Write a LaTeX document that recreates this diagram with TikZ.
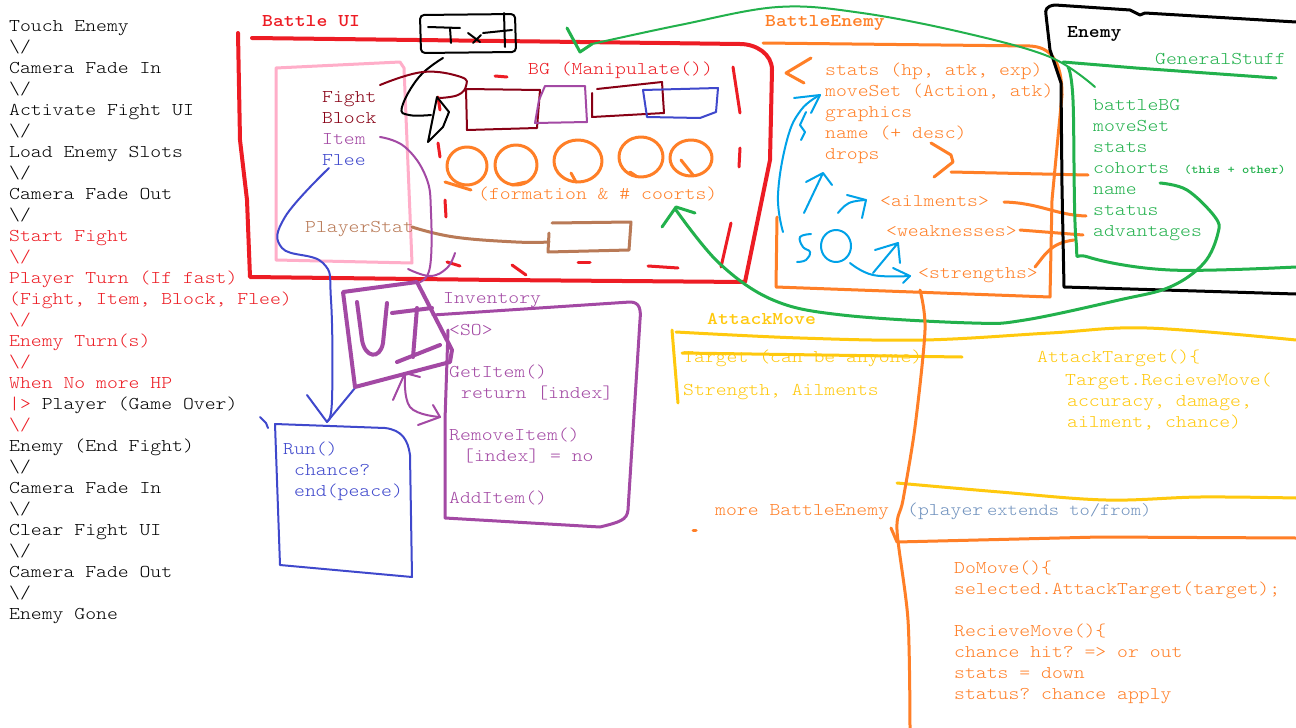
\documentclass[tikz,border=0pt]{standalone}
\usepackage{fontspec}
\setmonofont{lmmonolt10-regular.otf}[FakeStretch=1.15, BoldFont=lmmonolt10-bold.otf]
\definecolor{pRed}{HTML}{ED1C24}
\definecolor{pOrange}{HTML}{FF7F27}
\definecolor{pGreen}{HTML}{22B14C}
\definecolor{pPink}{HTML}{FFAEC9}
\definecolor{pPurple}{HTML}{A349A4}
\definecolor{pBlue}{HTML}{3F48CC}
\definecolor{pMaroon}{HTML}{880015}
\definecolor{pBrown}{HTML}{B97A57}
\definecolor{pCyan}{HTML}{00A2E8}
\definecolor{pYellow}{HTML}{FFC90E}
\definecolor{pSteel}{HTML}{7092BE}
\newcommand\dn{\textbackslash/}
\begin{document}
\begin{tikzpicture}[x=1pt, y=-1pt, line cap=round, line join=round,
  txt/.style={font=\ttfamily\fontsize{18}{21}\selectfont, anchor=base west, inner sep=0pt},
  ttl/.style={txt, font=\ttfamily\bfseries\fontsize{18}{21}\selectfont},
  brush/.style={line width=3pt},
  pen/.style={line width=2pt}]
\fill[white] (0,0) rectangle (1296,728);
\useasboundingbox (0,0) rectangle (1296,728);
% flow on the left
\foreach \c/\t [count=\i] in {black/Touch Enemy, black/\dn, black/Camera Fade In, black/\dn,
  black/Activate Fight UI, black/\dn, black/Load Enemy Slots, black/\dn, black/Camera Fade Out, black/\dn,
  pRed/Start Fight, pRed/\dn, pRed/Player Turn (If fast), {pRed/(Fight, Item, Block, Flee)}, pRed/\dn,
  pRed/Enemy Turn(s), pRed/\dn, pRed/When No more HP, black/{\color{pRed}|>} Player (Game Over), pRed/\dn,
  black/Enemy (End Fight), black/\dn, black/Camera Fade In, black/\dn, black/Clear Fight UI, black/\dn,
  black/Camera Fade Out, black/\dn, black/Enemy Gone}
  \node[txt, text=\c] (flow\i) at (9,{10+21*\i}) {\t};
% titles
\node[ttl, pRed] (battleui) at (262,27) {Battle UI};
\node[ttl, pOrange] (battleenemy) at (765,27) {BattleEnemy};
\node[ttl, black] (enemy) at (1067,37) {Enemy};
\node[ttl, pYellow] (attackmove) at (707,324) {AttackMove};
% battle ui
\draw[pRed, line width=4pt] (252,38) -- (500,41) -- (740,44) to[out=0,in=90] (772,70) -- (770,160) -- (745,282) -- (500,280) -- (250,277) -- (247,200) -- (240,140) -- (238,33);
\foreach \xa/\ya/\xb/\yb in {495/76/507/77, 438/143/440/157, 445/200/446/217, 447/262/460/266, 512/265/526/275,
  578/262/590/262, 648/266/678/268, 733/67/740/113, 740/148/739/167, 731/223/721/267, 438/97/440/110}
  \draw[brush, pRed] (\xa,\ya) -- (\xb,\yb);
\draw[brush, pPink] (276,68) -- (400,62) -- (404,68) -- (412,263) -- (276,260) -- cycle;
\node[txt, pMaroon] (fight) at (322,102) {Fight};
\node[txt, pMaroon] (block) at (322,123) {Block};
\node[txt, pPurple] (item) at (322,144) {Item};
\node[txt, pBlue] (flee) at (322,165) {Flee};
\node[txt, pBrown] (playerstat) at (305,232) {PlayerStat};
\node[txt, pRed] (bg) at (528,74) {BG (Manipulate())};
\node[txt, pOrange] (formation) at (478,199) {(formation \& \# coorts)};
% txt box and its arrow
\draw[pen, black, rounded corners=4pt] (420,15) -- (515,14) -- (516,52) -- (421,53) -- cycle;
\draw[pen, black] (428,27) -- (460,28) (450,28) -- (451,43) (468,33) -- (480,42) (473,43) -- (481,35)
  (483,33) -- (512,30) (504,13) -- (505,47);
\draw[pen, black] plot[smooth, tension=0.7] coordinates {(443,58) (419,77) (402,107) (409,115) (431,115)};
\draw[pen, black] (437,97) -- (428,142) -- (443,127) -- (449,112) -- cycle;
\draw[pen, pMaroon] plot[smooth, tension=0.7] coordinates {(380,85) (423,72) (461,77) (466,86) (458,95) (440,98)};
% bg strip
\draw[pen, pMaroon] (466,89) -- (540,90) -- (537,128) -- (467,130) -- cycle;
\draw[pen, pPurple] (545,86) -- (585,86) -- (587,122) -- (535,123) -- (539,100) -- cycle;
\draw[pen, pMaroon] (597,89) -- (662,82) -- (664,113) -- (592,117) -- (592,93);
\draw[pen, pBlue] (643,90) -- (718,88) -- (716,112) -- (700,118) -- (647,117) -- cycle;
% enemy slots
\foreach \cx/\cy/\rx/\ry in {467/166/20/19, 516/165/21/20, 578/161/24/21, 641/157/22/20, 691/158/21/18}
  \draw[brush, pOrange] (\cx,\cy) ellipse [x radius=\rx, y radius=\ry];
\draw[brush, pOrange] (445,182) -- (471,190) (512,185) -- (526,182) (571,173) -- (576,182)
  (630,172) -- (636,176) (681,160) -- (693,175);
% player stat
\draw[brush, pBrown] (552,223) -- (631,222) -- (629,250) -- (548,252) -- (549,233);
\draw[brush, pBrown] plot[smooth, tension=0.7] coordinates {(412,227) (454,237) (516,242) (549,242)};
% item and flee lines
\draw[pen, pPurple] plot[smooth, tension=0.7] coordinates {(380,137) (405,147) (426,177) (431,213) (430,267) (420,282)};
\draw[pen, pPurple] plot[smooth, tension=0.7] coordinates {(455,253) (447,268) (430,276) (408,269)};
\draw[pen, pBlue] plot[smooth, tension=0.7] coordinates {(329,168) (285,217) (282,248) (323,263) (331,300) (332,400) (327,421)};
\draw[pen, pBlue] (307,395) -- (327,422) -- (355,388);
% ui box
\draw[line width=4pt, pPurple] (343,292) -- (417,282) -- (452,350) -- (450,362) -- (355,387) -- cycle;
\draw[line width=4pt, pPurple] (357,302) -- (362,340) .. controls (365,358) and (380,360) .. (383,343) -- (387,303)
  (417,308) -- (413,357) (392,313) -- (432,308) (397,362) -- (440,345);
\draw[pen, pPurple] (393,400) -- (405,373) -- (420,377);
\draw[pen, pPurple] plot[smooth, tension=0.7] coordinates {(405,373) (410,407) (440,417)};
\draw[pen, pPurple] (433,405) -- (440,417) -- (418,425);
% inventory
\draw[brush, pPurple] (433,315) -- (630,302) .. controls (640,302) and (641,310) .. (640,320) -- (628,510)
  .. controls (627,520) and (620,522) .. (600,527) -- (445,518) -- (445,420) -- (448,330);
\node[txt, pPurple] (inventory) at (443,303) {Inventory};
\node[txt, pPurple] (so) at (449,335) {<SO>};
\node[txt, pPurple] (getitem) at (449,377) {GetItem()};
\node[txt, pPurple] (ret) at (461,398) {return [index]};
\node[txt, pPurple] (removeitem) at (449,440) {RemoveItem()};
\node[txt, pPurple] (index) at (463,461) {[index] = no};
\node[txt, pPurple] (additem) at (449,503) {AddItem()};
% run
\draw[pen, pBlue] (260,417) -- (266,423) -- (268,428);
\draw[pen, pBlue] (275,424) -- (385,428) .. controls (402,430) and (408,440) .. (410,455) -- (412,577) -- (280,565) -- cycle;
\node[txt, pBlue] (run) at (283,454) {Run()};
\node[txt, pBlue] (chance) at (294,475) {chance?};
\node[txt, pBlue] (peace) at (294,496) {end(peace)};
% battle enemy
\draw[brush, pOrange] (777,217) -- (776,287) -- (1050,297) -- (1052,200) -- (1062,95)
  .. controls (1062,60) and (1050,47) .. (1030,46) -- (763,43);
\node[txt, pOrange] (bstats) at (825,75) {stats (hp, atk, exp)};
\node[txt, pOrange] (bmoveset) at (825,96) {moveSet (Action, atk)};
\node[txt, pOrange] (graphics) at (825,117) {graphics};
\node[txt, pOrange] (bname) at (825,138) {name (+ desc)};
\node[txt, pOrange] (drops) at (825,159) {drops};
\node[txt, pOrange] (ailments) at (880,206) {<ailments>};
\node[txt, pOrange] (weaknesses) at (886,236) {<weaknesses>};
\node[txt, pOrange] (strengths) at (918,278) {<strengths>};
\draw[brush, pOrange] (811,58) -- (786,73) -- (804,83);
\draw[brush, pOrange] (931,143) -- (951,155) -- (953,162) -- (934,177);
\draw[brush, pOrange] (951,172) -- (1088,175);
\draw[brush, pOrange] (1004,202) .. controls (1040,203) and (1055,215) .. (1086,216);
\draw[brush, pOrange] (1020,230) -- (1083,235);
\draw[brush, pOrange] (1035,267) .. controls (1045,255) and (1050,243) .. (1074,240);
% so strokes
\draw[pen, pCyan] plot[smooth, tension=0.7] coordinates {(783,232) (778,195) (787,140) (801,110) (820,95)};
\draw[pen, pCyan] (794,98) -- (820,95) -- (811,113);
\draw[pen, pCyan] (806,112) -- (800,125) -- (805,132) -- (801,140);
\draw[pen, pCyan] (804,213) -- (823,173) (806,182) -- (823,173) -- (832,185);
\draw[pen, pCyan] plot[smooth, tension=0.7] coordinates {(838,213) (849,203) (866,200)};
\draw[pen, pCyan] (847,195) -- (866,200) -- (862,218);
\draw[pen, pCyan] plot[smooth, tension=0.7] coordinates {(811,234) (800,237) (803,247) (810,252) (806,260) (797,262)};
\draw[pen, pCyan] (836,246) ellipse [x radius=15, y radius=16];
\draw[pen, pCyan] plot[smooth, tension=0.7] coordinates {(850,263) (873,275) (910,276)};
\draw[pen, pCyan] (893,268) -- (910,276) -- (903,283);
\draw[pen, pCyan] (873,273) -- (898,243) (875,250) -- (898,243) -- (900,263);
% enemy
\draw[brush, black] (1296,22) -- (1145,13) -- (1140,15) -- (1130,10) -- (1055,5) .. controls (1046,6) and (1045,10) .. (1046,15)
  -- (1050,50) -- (1061,83) -- (1062,187) -- (1064,287) -- (1296,294);
\node[txt, pGreen] (general) at (1155,64) {GeneralStuff};
\node[txt, pGreen] (battlebg) at (1093,110) {battleBG};
\node[txt, pGreen] (emoveset) at (1093,131) {moveSet};
\node[txt, pGreen] (estats) at (1093,152) {stats};
\node[txt, pGreen] (cohorts) at (1093,173) {cohorts};
\node[txt, pGreen, font=\ttfamily\bfseries\fontsize{12}{14}\selectfont] (other) at (1184,173) {(this + other)};
\node[txt, pGreen] (ename) at (1093,194) {name};
\node[txt, pGreen] (status) at (1093,215) {status};
\node[txt, pGreen] (advantages) at (1093,236) {advantages};
% green links
\draw[brush, pGreen] (567,28) -- (580,52) -- (592,44);
\draw[pen, pGreen] plot[smooth, tension=0.6] coordinates {(592,44) (680,25) (778,7) (862,13) (965,33) (1050,57) (1095,87)};
\draw[brush, pGreen] (1063,62) -- (1136,68) -- (1276,78);
\draw[brush, pGreen] plot[smooth, tension=0.6] coordinates {(1068,67) (1073,100) (1076,240) (1088,257) (1170,270) (1296,267)};
\draw[brush, pGreen] plot[smooth, tension=0.6] coordinates {(1160,183) (1187,190) (1215,217) (1218,233) (1204,263)
  (1170,287) (1119,300) (1025,320) (972,323) (842,315) (773,300) (719,263) (676,210)};
\draw[brush, pGreen] (662,227) -- (676,207) -- (695,213);
% attack move
\draw[brush, pYellow] plot[smooth, tension=0.6] coordinates {(676,332) (800,338) (924,340) (1050,333) (1147,328) (1296,340)};
\draw[brush, pYellow] (672,330) -- (678,403);
\node[txt, pYellow] (target) at (683,362) {Target (can be anyone)};
\draw[brush, pYellow] (682,353) -- (962,357);
\node[txt, pYellow] (strength) at (683,395) {Strength, Ailments};
\node[txt, pYellow] (attacktarget) at (1037,362) {AttackTarget()\{};
\node[txt, pYellow] (recieve) at (1065,385) {Target.RecieveMove(};
\node[txt, pYellow] (accuracy) at (1067,406) {accuracy, damage,};
\node[txt, pYellow] (ailment) at (1067,427) {ailment, chance)};
\draw[brush, pYellow] plot[smooth, tension=0.6] coordinates {(897,483) (1000,492) (1106,500) (1200,497) (1296,498)};
% more battle enemy
\draw[brush, pOrange] plot[smooth, tension=0.5] coordinates {(920,290) (925,330) (915,427) (903,500) (897,530) (908,620) (910,728)};
\draw[brush, pOrange] (891,528) -- (897,542) -- (1100,537) -- (1296,538);
\draw[brush, pOrange] (693,530) -- (696,530);
\node[txt, pOrange] (more) at (715,515) {more BattleEnemy};
\node[txt, pSteel] (player) at (907,515) {(player};
\node[txt, pSteel, font=\ttfamily\fontsize{17}{20}\selectfont] (extends) at (987,515) {extends to/from)};
\node[txt, pOrange] (domove) at (954,573) {DoMove()\{};
\node[txt, pOrange] (selected) at (954,594) {selected.AttackTarget(target);};
\node[txt, pOrange] (recievemove) at (954,636) {RecieveMove()\{};
\node[txt, pOrange] (hit) at (954,657) {chance hit? => or out};
\node[txt, pOrange] (down) at (954,678) {stats = down};
\node[txt, pOrange] (apply) at (954,699) {status? chance apply};
\end{tikzpicture}
\end{document}
